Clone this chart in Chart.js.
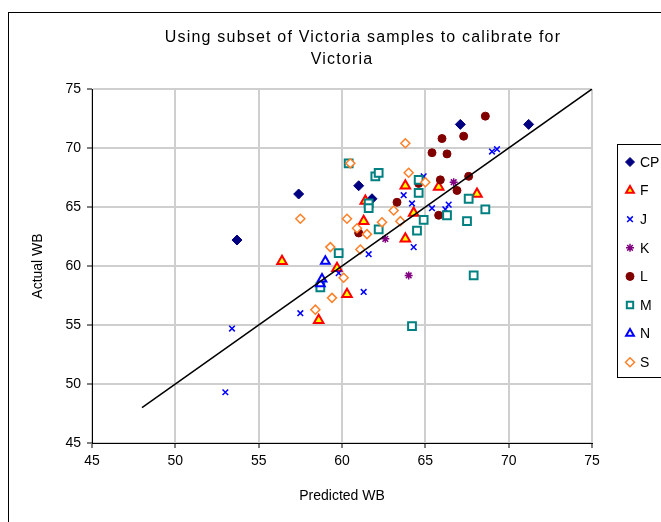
<!DOCTYPE html>
<html>
<head>
<meta charset="utf-8">
<script src="https://cdn.jsdelivr.net/npm/chart.js@4/dist/chart.umd.min.js"></script>
<style>
  html, body { margin: 0; padding: 0; background: #ffffff; }
  canvas { display: block; }
</style>
</head>
<body>
<canvas id="c" width="661" height="522"></canvas>
<script>
// ---- Data ----
const titleLines = ["Using subset of Victoria samples to calibrate for", "Victoria"];
const xTitle = "Predicted WB";
const yTitle = "Actual WB";
const seriesNames = ["CP", "F", "J", "K", "L", "M", "N", "S"];

const cpPred = [53.7, 57.4, 61.0, 61.8, 67.1, 71.2];
const cpAct  = [62.2, 66.1, 66.8, 65.7, 72.0, 72.0];

const fPred = [56.4, 58.6, 59.7, 60.3, 61.3, 61.4, 63.8, 63.8, 64.3, 65.8, 68.1];
const fAct  = [60.4, 55.4, 59.8, 57.6, 63.8, 65.5, 62.3, 66.8, 64.5, 66.7, 66.1];

const jPred = [53.0, 53.4, 57.5, 59.8, 61.3, 61.6, 63.7, 64.2, 64.3, 64.9, 65.4, 66.2, 66.4, 69.0, 69.3];
const jAct  = [49.3, 54.7, 56.0, 59.4, 57.8, 61.0, 66.0, 65.3, 61.6, 67.6, 64.9, 64.8, 65.2, 69.7, 69.9];

const kPred = [62.6, 64.0, 66.7];
const kAct  = [62.3, 59.2, 67.1];

const lPred = [61.0, 63.3, 64.6, 65.4, 65.8, 65.9, 66.0, 66.3, 66.9, 67.3, 67.6, 68.6];
const lAct  = [62.8, 65.4, 67.0, 69.6, 64.3, 67.3, 70.8, 69.5, 66.4, 71.0, 67.6, 72.7];

const mPred = [58.7, 59.8, 60.4, 61.6, 61.6, 62.0, 62.2, 62.2, 64.2, 64.5, 64.6, 64.6, 64.9, 66.3, 67.5, 67.6, 67.9, 68.6];
const mAct  = [58.2, 61.1, 68.7, 65.3, 64.9, 67.6, 67.9, 63.1, 54.9, 63.0, 67.3, 66.2, 63.9, 64.3, 63.8, 65.7, 59.2, 64.8];

const nPred = [58.7, 58.8, 59.0];
const nAct  = [58.5, 58.9, 60.4];

const sPred = [57.5, 58.4, 59.3, 59.4, 60.1, 60.3, 60.5, 60.9, 61.1, 61.5, 62.4, 63.1, 63.5, 63.8, 64.0, 65.0];
const sAct  = [64.0, 56.3, 61.6, 57.3, 59.0, 64.0, 68.7, 63.2, 61.4, 62.7, 63.7, 64.7, 63.8, 70.4, 67.9, 67.1];

const fitX = [48, 75];
const fitY = [48, 75];

const xTicks = [45, 50, 55, 60, 65, 70, 75];
const yTicks = [45, 50, 55, 60, 65, 70, 75];

// ---- Styles ----
const styles = {
  CP: { pointStyle: 'rectRot', radius: 5,   bg: '#000080', border: '#000080', bw: 1 },
  F:  { pointStyle: 'triangle', radius: 5.5, bg: '#ffff00', border: '#ff0000', bw: 2 },
  J:  { pointStyle: 'crossRot', radius: 4,  bg: '#0000ff', border: '#0000ff', bw: 1.5 },
  K:  { pointStyle: 'star',    radius: 4,   bg: '#800080', border: '#800080', bw: 1.5 },
  L:  { pointStyle: 'circle',  radius: 4,   bg: '#800000', border: '#800000', bw: 1 },
  M:  { pointStyle: 'rect',    radius: 5.5, bg: '#ffffff', border: '#008080', bw: 2 },
  N:  { pointStyle: 'triangle', radius: 5,  bg: '#ffffff', border: '#0000ff', bw: 2 },
  S:  { pointStyle: 'rectRot', radius: 4.5, bg: '#ffffff', border: '#ff7f27', bw: 1.5 }
};

function pts(xs, ys) { return xs.map((x, i) => ({ x: x, y: ys[i] })); }

const seriesData = [
  pts(cpPred, cpAct), pts(fPred, fAct), pts(jPred, jAct), pts(kPred, kAct),
  pts(lPred, lAct), pts(mPred, mAct), pts(nPred, nAct), pts(sPred, sAct)
];

const datasets = seriesNames.map((name, i) => {
  const s = styles[name];
  return {
    label: name,
    data: seriesData[i],
    pointStyle: s.pointStyle,
    pointRadius: s.radius,
    pointBackgroundColor: s.bg,
    pointBorderColor: s.border,
    pointBorderWidth: s.bw,
    showLine: false,
    order: 20 - i
  };
});
datasets.push({
  label: 'fit',
  type: 'line',
  data: pts(fitX, fitY),
  borderColor: '#000000',
  borderWidth: 1.5,
  pointRadius: 0,
  fill: false,
  order: 0
});

const FONT = "'Liberation Sans', Arial, sans-serif";

const decor = {
  id: 'decor',
  afterDraw(chart) {
    const ctx = chart.ctx;
    ctx.save();
    // outer chart border
    ctx.strokeStyle = '#000000';
    ctx.lineWidth = 1;
    ctx.strokeRect(8.5, 12.5, 700, 600);
    // title
    ctx.fillStyle = '#000000';
    ctx.font = '16px ' + FONT;
    if ('letterSpacing' in ctx) ctx.letterSpacing = '1.2px';
    ctx.textAlign = 'center';
    ctx.textBaseline = 'middle';
    ctx.fillText(titleLines[0], 363, 38);
    ctx.fillText(titleLines[1], 342, 60);
    if ('letterSpacing' in ctx) ctx.letterSpacing = '0px';
    // legend
    const lx = 617, ly = 144, lh = 233;
    ctx.fillStyle = '#ffffff';
    ctx.fillRect(lx + 0.5, ly + 0.5, 100, lh);
    ctx.strokeStyle = '#000000';
    ctx.lineWidth = 1;
    ctx.strokeRect(lx + 0.5, ly + 0.5, 100, lh);
    ctx.font = '14px ' + FONT;
    ctx.textAlign = 'left';
    ctx.textBaseline = 'middle';
    seriesNames.forEach((name, i) => {
      const y = 162 + i * 28.6;
      const s = styles[name];
      if (Chart.helpers && Chart.helpers.drawPoint) {
        ctx.save();
        ctx.fillStyle = s.bg;
        ctx.strokeStyle = s.border;
        ctx.lineWidth = s.bw;
        Chart.helpers.drawPoint(ctx, { pointStyle: s.pointStyle, radius: Math.min(s.radius, 4.5), rotation: 0, borderWidth: s.bw }, 630, y);
        ctx.restore();
      }
      ctx.fillStyle = '#000000';
      ctx.fillText(name, 640, y + 1);
    });
    ctx.restore();
  }
};

new Chart(document.getElementById('c').getContext('2d'), {
  type: 'scatter',
  data: { datasets: datasets },
  options: {
    responsive: false,
    animation: false,
    events: [],
    layout: { padding: { left: 0, top: 89, right: 69, bottom: 0 } },
    plugins: {
      legend: { display: false },
      title: { display: false },
      tooltip: { enabled: false }
    },
    scales: {
      x: {
        type: 'linear',
        min: 45, max: 75,
        afterBuildTicks(scale) { scale.ticks = xTicks.map(v => ({ value: v })); },
        afterFit(scale) { scale.height = 79; },
        ticks: { color: '#000000', font: { family: FONT, size: 14 }, padding: 5, maxRotation: 0 },
        grid: { color: '#cfcfcf', lineWidth: 2, tickColor: '#000000', tickLength: 5, tickWidth: 1 },
        border: { display: true, color: '#000000', width: 1 },
        title: { display: true, text: xTitle, color: '#000000', font: { family: FONT, size: 14 }, padding: 17 }
      },
      y: {
        type: 'linear',
        min: 45, max: 75,
        afterBuildTicks(scale) { scale.ticks = yTicks.map(v => ({ value: v })); },
        afterFit(scale) { scale.width = 92; },
        ticks: { color: '#000000', font: { family: FONT, size: 14 }, padding: 6 },
        grid: { color: '#cfcfcf', lineWidth: 2, tickColor: '#000000', tickLength: 5, tickWidth: 1 },
        border: { display: true, color: '#000000', width: 1 },
        title: { display: true, text: yTitle, color: '#000000', font: { family: FONT, size: 14 }, padding: 30 }
      }
    }
  },
  plugins: [decor]
});
</script>
</body>
</html>
